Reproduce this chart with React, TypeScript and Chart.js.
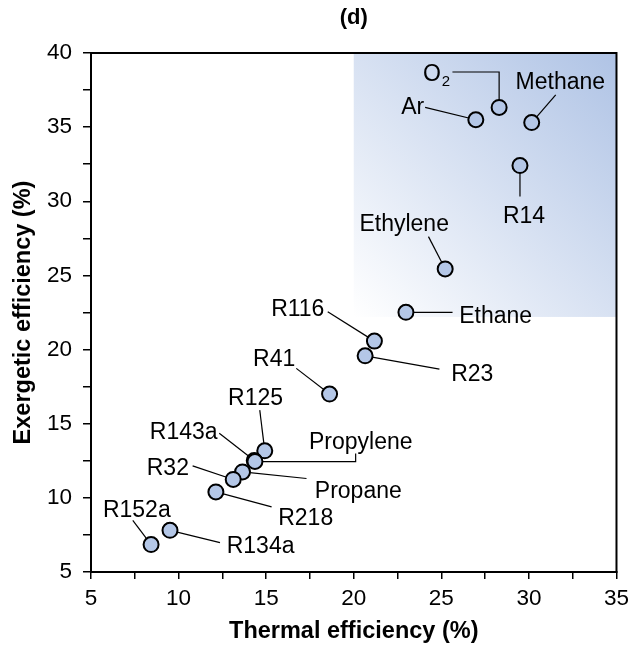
import React, { useEffect, useRef } from 'react';
import { Chart, registerables } from 'chart.js';

Chart.register(...registerables);

// ---- data ----
const fluids = ['Ar', 'O2', 'Methane', 'R14', 'Ethylene', 'Ethane', 'R116', 'R23', 'R41', 'R125', 'R143a', 'Propylene', 'Propane', 'R32', 'R218', 'R134a', 'R152a'];
const thermalEff = [26.97, 28.3, 30.16, 29.49, 25.22, 22.98, 21.18, 20.65, 18.62, 14.92, 14.32, 14.36, 13.65, 13.12, 12.13, 9.51, 8.43];
const exergeticEff = [35.5, 36.33, 35.31, 32.41, 25.44, 22.51, 20.57, 19.58, 17.0, 13.17, 12.52, 12.45, 11.75, 11.24, 10.4, 7.81, 6.85];

const xTickLabels = ['5', '10', '15', '20', '25', '30', '35'];
const yTickLabels = ['5', '10', '15', '20', '25', '30', '35', '40'];

// highlighted region (data units)
const regionX = [20, 35];
const regionY = [22.2, 40];

const chartTitle = '(d)';
const xTitle = 'Thermal efficiency (%)';
const yTitle = 'Exergetic efficiency (%)';

// ---- label placement (pixel offsets from each point) ----
type Layout = { dx: number; dy: number; align: CanvasTextAlign; path: number[][] };
const labelLayout: Record<string, Layout> = {
  Ar: { dx: -51.7, dy: -12, align: 'right', path: [[-50.7, -12.3]] },
  O2: { dx: -49, dy: -33, align: 'right', path: [[-46.7, -35.4], [0, -35.4]] },
  Methane: { dx: 28.6, dy: -39.4, align: 'center', path: [[24, -27.7]] },
  R14: { dx: 4, dy: 51, align: 'center', path: [[0, 31]] },
  Ethylene: { dx: -41, dy: -44, align: 'center', path: [[-16.7, -32.3]] },
  Ethane: { dx: 53.3, dy: 4.4, align: 'left', path: [[46.6, 0]] },
  R116: { dx: -50, dy: -31, align: 'right', path: [[-46.7, -29.3]] },
  R23: { dx: 86, dy: 19.3, align: 'left', path: [[74.3, 13.3]] },
  R41: { dx: -34.3, dy: -34, align: 'right', path: [[-33.3, -25.7]] },
  R125: { dx: -9.2, dy: -52.4, align: 'center', path: [[-5, -40.7]] },
  R143a: { dx: -36.7, dy: -28.3, align: 'right', path: [[-35, -27.3]] },
  Propylene: { dx: 54, dy: -19, align: 'left', path: [[100.7, -8], [100.7, 0]] },
  Propane: { dx: 72.3, dy: 20, align: 'left', path: [[64, 6.6]] },
  R32: { dx: -44.3, dy: -11, align: 'right', path: [[-40.6, -13.6]] },
  R218: { dx: 62.3, dy: 26.6, align: 'left', path: [[55.7, 15]] },
  R134a: { dx: 56.7, dy: 16.7, align: 'left', path: [[50, 12.3]] },
  R152a: { dx: -14.3, dy: -34.3, align: 'center', path: [[-18.3, -24.3]] },
};

const FONT = "'Liberation Sans', Arial, Helvetica, sans-serif";
const LABEL_SIZE = 23;
const TICK_SIZE = 22.5;
const TITLE_SIZE = 23.5;

const annotationPlugin = {
  id: 'annotations',
  beforeDatasetsDraw(chart: any) {
    const { ctx, scales } = chart;
    const xs = scales.x;
    const ys = scales.y;
    // shaded region
    const x0 = xs.getPixelForValue(regionX[0]);
    const x1 = xs.getPixelForValue(regionX[1]);
    const y0 = ys.getPixelForValue(regionY[0]);
    const y1 = ys.getPixelForValue(regionY[1]);
    ctx.save();
    const g = ctx.createLinearGradient(x0, y0, x1, y1);
    g.addColorStop(0, 'rgb(255,255,255)');
    g.addColorStop(1, 'rgb(175,195,229)');
    ctx.fillStyle = g;
    ctx.fillRect(x0, y1, x1 - x0, y0 - y1);
    ctx.restore();

    // leader lines
    const meta = chart.getDatasetMeta(0);
    ctx.save();
    ctx.strokeStyle = '#000';
    ctx.lineWidth = 1.2;
    fluids.forEach((name, i) => {
      const lay = labelLayout[name];
      const pt = meta.data[i];
      if (!lay || !pt) return;
      ctx.beginPath();
      lay.path.forEach((p, k) => {
        if (k === 0) ctx.moveTo(pt.x + p[0], pt.y + p[1]);
        else ctx.lineTo(pt.x + p[0], pt.y + p[1]);
      });
      ctx.lineTo(pt.x, pt.y);
      ctx.stroke();
    });
    ctx.restore();
  },
  afterDatasetsDraw(chart: any) {
    const { ctx, chartArea } = chart;
    const meta = chart.getDatasetMeta(0);
    ctx.save();
    ctx.fillStyle = '#000';
    ctx.textBaseline = 'middle';
    fluids.forEach((name, i) => {
      const lay = labelLayout[name];
      const pt = meta.data[i];
      if (!lay || !pt) return;
      const x = pt.x + lay.dx;
      const y = pt.y + lay.dy;
      const m = name.match(/^([A-Za-z]+)(\d)$/);
      if (name === 'O2' && m) {
        const subSize = Math.round(LABEL_SIZE * 0.66);
        ctx.font = `${LABEL_SIZE}px ${FONT}`;
        const w1 = ctx.measureText(m[1]).width;
        ctx.font = `${subSize}px ${FONT}`;
        const w2 = ctx.measureText(m[2]).width;
        const total = w1 + w2 + 1;
        let left = x;
        if (lay.align === 'right') left = x - total;
        else if (lay.align === 'center') left = x - total / 2;
        ctx.textAlign = 'left';
        ctx.font = `${LABEL_SIZE}px ${FONT}`;
        ctx.fillText(m[1], left, y);
        ctx.font = `${subSize}px ${FONT}`;
        ctx.fillText(m[2], left + w1 + 1, y + 7);
      } else {
        ctx.font = `${LABEL_SIZE}px ${FONT}`;
        ctx.textAlign = lay.align;
        ctx.fillText(name, x, y);
      }
    });
    ctx.restore();

    // frame
    ctx.save();
    ctx.strokeStyle = '#000';
    ctx.lineWidth = 2;
    ctx.strokeRect(chartArea.left, chartArea.top, chartArea.right - chartArea.left, chartArea.bottom - chartArea.top);
    ctx.restore();

    // title
    ctx.save();
    ctx.fillStyle = '#000';
    ctx.font = `bold 22px ${FONT}`;
    ctx.textAlign = 'center';
    ctx.textBaseline = 'middle';
    ctx.fillText(chartTitle, (chartArea.left + chartArea.right) / 2, 18);
    ctx.restore();
  },
};

export default function App() {
  const ref = useRef<HTMLCanvasElement | null>(null);
  useEffect(() => {
    if (!ref.current) return;
    const tickCb = (labels: string[]) => (v: any) => {
      const s = String(v);
      return labels.includes(s) ? s : '';
    };
    const chart = new Chart(ref.current, {
      type: 'scatter',
      data: {
        datasets: [
          {
            label: 'fluids',
            data: thermalEff.map((x, i) => ({ x, y: exergeticEff[i] })),
            pointRadius: 7.5,
            pointHoverRadius: 7.5,
            borderWidth: 2,
            borderColor: '#000',
            backgroundColor: 'rgb(180,199,231)',
          },
        ],
      },
      options: {
        animation: false,
        responsive: false,
        devicePixelRatio: 1,
        layout: { padding: { top: 53, right: 17, bottom: 0, left: 0 } },
        plugins: {
          legend: { display: false },
          tooltip: { enabled: false },
          title: { display: false },
        },
        scales: {
          x: {
            type: 'linear',
            min: 5,
            max: 35,
            afterFit: (s: any) => { s.height = 77; },
            ticks: {
              stepSize: 2.5,
              autoSkip: false,
              maxRotation: 0,
              padding: 6,
              color: '#000',
              font: { family: FONT, size: TICK_SIZE },
              callback: tickCb(xTickLabels),
            },
            grid: { drawOnChartArea: false, drawTicks: true, tickLength: 7, color: '#000', lineWidth: 1.5 },
            border: { display: true, color: '#000', width: 2 },
            title: {
              display: true,
              text: xTitle,
              color: '#000',
              font: { family: FONT, size: TITLE_SIZE, weight: 'bold' },
              padding: { top: 0, bottom: 3 },
            },
          },
          y: {
            type: 'linear',
            min: 5,
            max: 40,
            afterFit: (s: any) => { s.width = 91; },
            ticks: {
              stepSize: 2.5,
              autoSkip: false,
              padding: 11,
              color: '#000',
              font: { family: FONT, size: TICK_SIZE },
              callback: tickCb(yTickLabels),
            },
            grid: { drawOnChartArea: false, drawTicks: true, tickLength: 8, color: '#000', lineWidth: 1.5 },
            border: { display: true, color: '#000', width: 2 },
            title: {
              display: true,
              text: yTitle,
              color: '#000',
              font: { family: FONT, size: TITLE_SIZE, weight: 'bold' },
              padding: { top: 9, bottom: 0 },
            },
          },
        },
      },
      plugins: [annotationPlugin],
    });
    return () => chart.destroy();
  }, []);
  return (
    <div style={{ position: 'absolute', left: 0, top: 0, width: 635, height: 649, background: '#fff' }}>
      <canvas ref={ref} width={635} height={649} style={{ display: 'block' }} />
    </div>
  );
}
